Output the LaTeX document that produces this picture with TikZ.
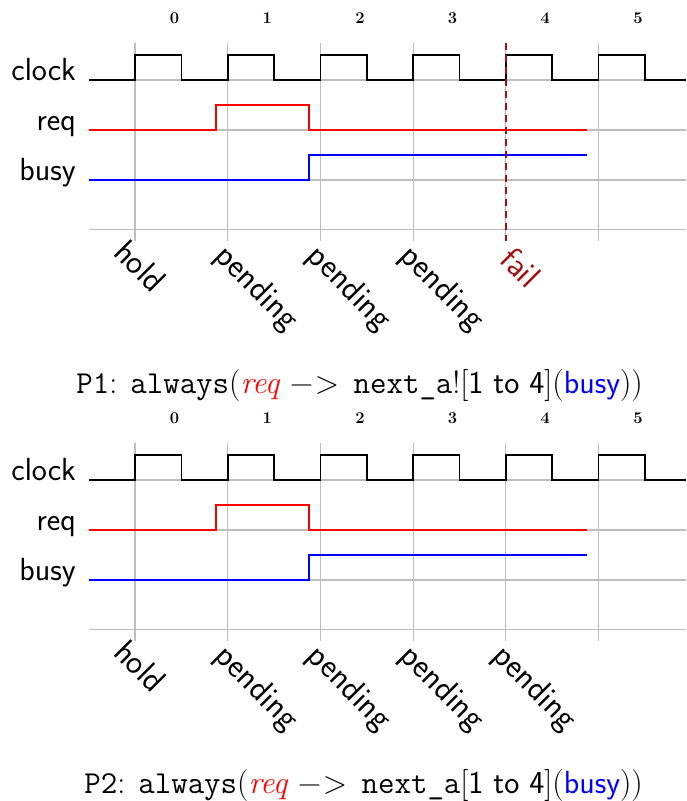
\documentclass[tikz,border=0pt]{standalone}
\usepackage{fontspec}
\definecolor{failred}{RGB}{165,12,12}
\definecolor{gridgray}{RGB}{190,190,190}
\tikzset{
  gridline/.style={draw=gridgray, line width=1.1pt},
  sig/.style={line width=1.7pt, line join=miter},
  lbl/.style={font=\fontsize{32}{38}\selectfont\sffamily, inner sep=0pt},
  num/.style={font=\fontsize{16.5}{19}\selectfont\bfseries, inner sep=0pt, anchor=base},
  rot/.style={lbl, font=\fontsize{34}{40}\selectfont\sffamily, rotate=-45, anchor=base west},
  capt/.style={font=\fontsize{32}{38}\selectfont, inner sep=0pt, anchor=base east},
}
\newcommand{\Tc}{92.7}
% #1 = prefix, #2 = caption text, #3 = rotated labels
\newcommand{\timingpanel}[3]{%
  % grid
  \foreach \yy in {80,130,180,229.3} { \draw[gridline] (88.65,\yy) -- (686,\yy); }
  \foreach \k in {0,...,5} {
    \draw[gridline] ({135+\k*\Tc},42.7) -- ({135+\k*\Tc},241);
    \node[num] (#1n\k) at ({174.5+\k*\Tc},23.3) {\k};
  }
  % labels
  \node[lbl, anchor=base east] (#1clock) at (76,80) {clock};
  \node[lbl, anchor=base east] (#1req) at (76,130) {req};
  \node[lbl, anchor=base east] (#1busy) at (76,180) {busy};
  % clock
  \draw[sig, black] (88.65,80)
    \foreach \k in {0,...,5} { -- ({135+\k*\Tc},80) -- ({135+\k*\Tc},55.3) -- ({135+(\k+0.5)*\Tc},55.3) -- ({135+(\k+0.5)*\Tc},80) }
    -- (686,80);
  % req
  \draw[sig, red] (88.65,130) -- ({135+0.875*\Tc},130) -- ({135+0.875*\Tc},105)
    -- ({135+1.875*\Tc},105) -- ({135+1.875*\Tc},130) -- ({135+4.875*\Tc},130);
  % busy
  \draw[sig, blue] (88.65,180) -- ({135+1.875*\Tc},180) -- ({135+1.875*\Tc},154.7)
    -- ({135+4.875*\Tc},154.7);
  #3
  \node[capt] (#1cap) at (643,393) {#2};
}
\begin{document}
\begin{tikzpicture}[x=1pt,y=-1pt]
\useasboundingbox (0,0) rectangle (686,801);
\fill[white] (0,0) rectangle (686,801);
\begin{scope}
\timingpanel{a}{\texttt{P1}: \texttt{always}({\color{red}\textit{req}} −\kern0.05em>\hspace{0.45em}\texttt{next\_a}!{[}\textsf{1 to 4}{]}({\color{blue}\textsf{busy}}))}{%
  \node[rot] (ah0) at (112,254) {hold};
  \node[rot] (ah1) at (213,257.5) {pending};
  \node[rot] (ah2) at ({213+\Tc},257.5) {pending};
  \node[rot] (ah3) at ({213+2*\Tc},257.5) {pending};
  \node[rot, text=failred] (ah4) at (498,261) {fail};
  \draw[failred, line width=1.6pt, dash pattern=on 7pt off 5pt] (506,42.7) -- (506,241);
}
\end{scope}
\begin{scope}[shift={(0,400)}]
\timingpanel{b}{\texttt{P2}: \texttt{always}({\color{red}\textit{req}} −\kern0.05em>\hspace{0.45em}\texttt{next\_a}{[}\textsf{1 to 4}{]}({\color{blue}\textsf{busy}}))}{%
  \node[rot] (bh0) at (112,254) {hold};
  \node[rot] (bh1) at (213,257.5) {pending};
  \node[rot] (bh2) at ({213+\Tc},257.5) {pending};
  \node[rot] (bh3) at ({213+2*\Tc},257.5) {pending};
  \node[rot] (bh4) at ({213+3*\Tc},257.5) {pending};
}
\end{scope}
\end{tikzpicture}
\end{document}
